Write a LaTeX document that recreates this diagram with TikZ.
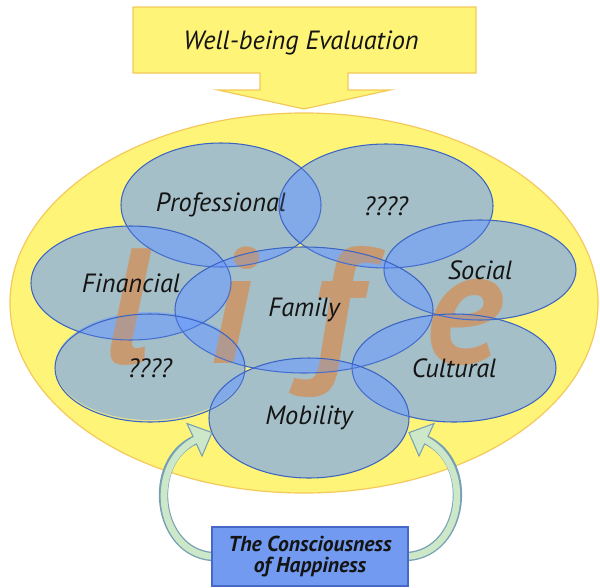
\documentclass[tikz,border=0pt]{standalone}
\usepackage{fontspec}
\setmainfont{PT Sans}
\usetikzlibrary{shapes.geometric}
\definecolor{ellfill}{RGB}{108,157,255}
\definecolor{ellline}{RGB}{60,100,195}
\definecolor{lifecol}{RGB}{228,150,68}
\definecolor{yel}{RGB}{253,244,120}
\definecolor{yelline}{RGB}{245,200,90}
\definecolor{boxfill}{RGB}{114,154,240}
\definecolor{boxline}{RGB}{70,105,200}
\definecolor{arrfill}{RGB}{205,232,200}
\definecolor{arrline}{RGB}{120,160,180}
\definecolor{ink}{RGB}{20,20,20}
\tikzset{
  blobA/.style={ellipse, inner sep=0pt, fill=ellfill, fill opacity=0.5, draw=none},
  blobC/.style={ellipse, inner sep=0pt, fill=ellfill, fill opacity=0.2, draw=ellline, draw opacity=1, line width=0.9pt, text opacity=1, text=ink, font=\fontsize{22.5}{26}\selectfont\itshape},
  lifeletter/.style={anchor=base, inner sep=0pt, text=lifecol, text opacity=0.9, font=\fontsize{140}{140}\selectfont\bfseries\itshape},
  bandout/.style={line width=0.28cm, draw=arrline},
  bandin/.style={line width=0.2cm, draw=arrfill, shorten >=-0.1cm},
  arrhead/.style={fill=arrfill, draw=arrline, line width=0.9pt, line join=miter},
  boxstyle/.style={rectangle, fill=boxfill, draw=boxline, line width=0.9pt, minimum width=5.88cm, minimum height=1.77cm,
      align=center, text=ink, font=\fontsize{18.4}{17.5}\selectfont\bfseries\itshape},
}
\begin{document}
\begin{tikzpicture}[x=0.03cm,y=-0.03cm]
\useasboundingbox (0,0) rectangle (600,587);
% top arrow
\filldraw[fill=yel, draw=yelline, line width=1pt]
  (133,7) -- (476,7) -- (476,73) -- (348,73) -- (348,90) -- (390,90) -- (304,109)
  -- (218,90) -- (260,90) -- (260,73) -- (133,73) -- cycle;
\node[text=ink, font=\fontsize{22.5}{26}\selectfont\itshape] (wb) at (301,43) {Well-being Evaluation};
% big yellow ellipse
\node[ellipse, inner sep=0pt, fill=yel, draw=yelline, line width=1pt,
      minimum width=17.64cm, minimum height=11.4cm] (lifeell) at (304,303) {};
% pass A fills
\node[blobA, minimum width=6.0cm,  minimum height=3.72cm] at (221,205) {};
\node[blobA, minimum width=6.42cm, minimum height=3.72cm] at (386,206) {};
\node[blobA, minimum width=6.0cm,  minimum height=3.42cm] at (131,283) {};
\node[blobA, minimum width=5.76cm, minimum height=3.0cm]  at (480,270) {};
\node[blobA, minimum width=7.74cm, minimum height=3.78cm] at (304,310) {};
\node[blobA, minimum width=5.7cm,  minimum height=3.24cm] at (150,366) {};
\node[blobA, minimum width=6.12cm, minimum height=3.24cm] at (454,368) {};
\node[blobA, minimum width=6.0cm,  minimum height=3.6cm]  at (309,418) {};
% life letters
\node[lifeletter] (L1) at (128,363) {l};
\node[lifeletter] (L2) at (230,363) {i};
\node[lifeletter] (L3) at (335,363) {f};
\node[lifeletter] (L4) at (464,363) {e};
% pass C with labels
\node[blobC, minimum width=6.0cm,  minimum height=3.72cm] (prof) at (221,205) {Professional};
\node[blobC, minimum width=6.42cm, minimum height=3.72cm] (q1)   at (386,206) {????};
\node[blobC, minimum width=6.0cm,  minimum height=3.42cm] (fin)  at (131,283) {Financial};
\node[blobC, minimum width=5.76cm, minimum height=3.0cm]  (soc)  at (480,270) {Social};
\node[blobC, minimum width=7.74cm, minimum height=3.78cm] (fam)  at (304,310) {Family};
\node[blobC, minimum width=5.7cm,  minimum height=3.24cm] (q2)   at (150,368) {????};
\node[blobC, minimum width=6.12cm, minimum height=3.24cm] (cul)  at (454,368) {Cultural};
\node[blobC, minimum width=6.0cm,  minimum height=3.6cm]  (mob)  at (309,418) {Mobility};
% curved arrows
\coordinate (lb) at (195,440);
\coordinate (rb) at (426,440);
\coordinate (bw) at (212,556.5);
\coordinate (be) at (408,556.5);
\draw[bandout] (bw) .. controls (156,552) and (146,462) .. (lb);
\filldraw[arrhead] (212,432.6) -- (202,456) -- (187,423.5) -- cycle;
\draw[bandin] (bw) .. controls (156,552) and (146,462) .. (lb);
\draw[bandout] (be) .. controls (465,552) and (475,462) .. (rb);
\filldraw[arrhead] (409,432.6) -- (419,456) -- (434,423.5) -- cycle;
\draw[bandin] (be) .. controls (465,552) and (475,462) .. (rb);
% box
\node[boxstyle] (box) at (310,556.5) {The Consciousness\\of Happiness};
\end{tikzpicture}
\end{document}
